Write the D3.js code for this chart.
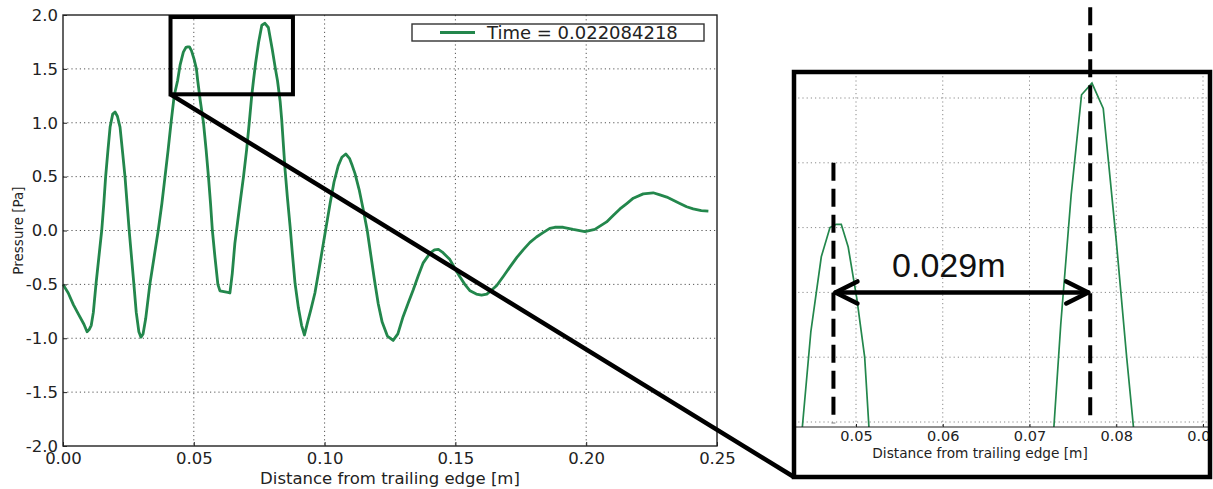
<!DOCTYPE html>
<html>
<head>
<meta charset="utf-8">
<script src="https://cdn.jsdelivr.net/npm/d3@7"></script>
<style>
  body { margin: 0; background: #fff; }
  svg { display: block; font-family: 'DejaVu Sans', sans-serif; }
</style>
</head>
<body>
<svg id="plot" width="1213" height="489"></svg>
<script>
// pressure trace
const distance = [
  0.0000, 0.0020, 0.0040, 0.0060, 0.0080, 0.0092, 0.0100, 0.0108, 0.0116, 0.0126,
  0.0137, 0.0148, 0.0156, 0.0163, 0.0172, 0.0180, 0.0190, 0.0199, 0.0208, 0.0218,
  0.0228, 0.0237, 0.0245, 0.0253, 0.0262, 0.0271, 0.0280, 0.0290, 0.0298, 0.0306,
  0.0316, 0.0332, 0.0348, 0.0364, 0.0378, 0.0390, 0.0402, 0.0413, 0.0425, 0.0438,
  0.0448, 0.0460, 0.0470, 0.0477, 0.0483, 0.0491, 0.0501, 0.0510, 0.0515, 0.0525,
  0.0537, 0.0547, 0.0556, 0.0564, 0.0571, 0.0581, 0.0592, 0.0600, 0.0610, 0.0620,
  0.0630, 0.0638, 0.0647, 0.0657, 0.0667, 0.0677, 0.0690, 0.0702, 0.0712, 0.0721,
  0.0728, 0.0736, 0.0748, 0.0760, 0.0772, 0.0785, 0.0800, 0.0812, 0.0820, 0.0830,
  0.0836, 0.0849, 0.0858, 0.0868, 0.0877, 0.0887, 0.0900, 0.0912, 0.0923, 0.0935,
  0.0948, 0.0963, 0.0976, 0.0989, 0.1005, 0.1021, 0.1036, 0.1052, 0.1066, 0.1081,
  0.1095, 0.1106, 0.1116, 0.1132, 0.1148, 0.1163, 0.1175, 0.1190, 0.1205, 0.1220,
  0.1240, 0.1262, 0.1280, 0.1300, 0.1320, 0.1339, 0.1358, 0.1377, 0.1403, 0.1420,
  0.1435, 0.1450, 0.1479, 0.1500, 0.1517, 0.1536, 0.1556, 0.1580, 0.1600, 0.1620,
  0.1640, 0.1658, 0.1685, 0.1708, 0.1735, 0.1759, 0.1785, 0.1810, 0.1835, 0.1861,
  0.1880, 0.1912, 0.1950, 0.1995, 0.2033, 0.2078, 0.2103, 0.2129, 0.2155, 0.2180,
  0.2218, 0.2256, 0.2282, 0.2308, 0.2333, 0.2358, 0.2384, 0.2409, 0.2440, 0.2467
];
const pressure = [
  -0.50, -0.58, -0.69, -0.78, -0.87, -0.94, -0.92, -0.88, -0.76, -0.50,
  -0.25, 0.00, 0.25, 0.50, 0.75, 0.96, 1.08, 1.10, 1.06, 0.96,
  0.72, 0.50, 0.25, 0.00, -0.25, -0.50, -0.76, -0.94, -0.99, -0.96,
  -0.82, -0.50, -0.25, 0.00, 0.25, 0.50, 0.75, 1.00, 1.25, 1.39,
  1.54, 1.655, 1.70, 1.705, 1.705, 1.67, 1.59, 1.50, 1.39, 1.20,
  1.00, 0.75, 0.50, 0.25, 0.00, -0.25, -0.50, -0.56, -0.565, -0.57,
  -0.575, -0.58, -0.40, -0.12, 0.07, 0.26, 0.50, 0.75, 1.00, 1.24,
  1.39, 1.55, 1.75, 1.905, 1.923, 1.884, 1.68, 1.50, 1.39, 1.20,
  1.03, 0.56, 0.30, 0.04, -0.22, -0.49, -0.72, -0.88, -0.97, -0.85,
  -0.73, -0.58, -0.40, -0.21, 0.02, 0.25, 0.45, 0.60, 0.68, 0.71,
  0.67, 0.60, 0.53, 0.38, 0.19, 0.00, -0.20, -0.45, -0.68, -0.85,
  -0.98, -1.02, -0.96, -0.80, -0.67, -0.55, -0.42, -0.30, -0.21, -0.18,
  -0.175, -0.20, -0.27, -0.36, -0.43, -0.50, -0.56, -0.59, -0.60, -0.59,
  -0.55, -0.51, -0.42, -0.34, -0.25, -0.18, -0.11, -0.06, -0.02, 0.02,
  0.03, 0.03, 0.01, -0.01, 0.01, 0.08, 0.14, 0.20, 0.25, 0.30,
  0.34, 0.35, 0.33, 0.31, 0.28, 0.25, 0.22, 0.20, 0.185, 0.18
];

const xTicks = [0.00, 0.05, 0.10, 0.15, 0.20, 0.25];
const yTicks = [-2.0, -1.5, -1.0, -0.5, 0.0, 0.5, 1.0, 1.5, 2.0];
const insetXTicks = [0.05, 0.06, 0.07, 0.08, 0.09];
const insetYGrid = [1.4, 1.5, 1.6, 1.7, 1.8, 1.9];

const legendLabel = 'Time = 0.022084218';
const xTitle = 'Distance from trailing edge [m]';
const yTitle = 'Pressure [Pa]';

// zoomed window [x0, x1, y0, y1] and the two marked peaks
const zoomWindow = [0.0411, 0.0879, 1.264, 1.981];
const peakA = 0.0474;
const peakB = 0.0770;
const spacingLabel = '0.029m';

const lineColor = '#23874c';

const svg = d3.select('#plot');
const points = d3.zip(distance, pressure);

// ---------- main plot ----------
const xScale = d3.scaleLinear().domain([0, 0.25]).range([63, 717]);
const yScale = d3.scaleLinear().domain([-2, 2]).range([446, 15]);

const main = svg.append('g').attr('class', 'main');

const gridStyle = sel => sel
  .attr('stroke', '#555')
  .attr('stroke-width', 1)
  .attr('stroke-dasharray', '1.2,3');

main.append('g').selectAll('line')
  .data(xTicks.slice(1, -1)).enter().append('line')
    .attr('x1', d => xScale(d)).attr('x2', d => xScale(d))
    .attr('y1', yScale(2)).attr('y2', yScale(-2))
    .call(gridStyle);

main.append('g').selectAll('line')
  .data(yTicks.slice(1, -1)).enter().append('line')
    .attr('x1', xScale(0)).attr('x2', xScale(0.25))
    .attr('y1', d => yScale(d)).attr('y2', d => yScale(d))
    .call(gridStyle);

const line = d3.line()
  .x(d => xScale(d[0]))
  .y(d => yScale(d[1]));

main.append('path')
  .datum(points)
  .attr('fill', 'none')
  .attr('stroke', lineColor)
  .attr('stroke-width', 2.8)
  .attr('stroke-linejoin', 'round')
  .attr('d', line);

const axisStyle = g => {
  g.selectAll('.domain').remove();
  g.selectAll('line').attr('stroke', '#222');
  g.selectAll('text')
    .attr('font-size', 16.5)
    .attr('fill', '#222')
    .attr('font-family', 'DejaVu Sans, sans-serif');
};

main.append('g')
  .attr('transform', `translate(0, ${yScale(-2)})`)
  .call(d3.axisBottom(xScale).tickValues(xTicks)
    .tickFormat(d => d.toFixed(2))
    .tickSizeInner(-4).tickSizeOuter(0).tickPadding(6))
  .call(axisStyle);

main.append('g')
  .attr('transform', `translate(${xScale(0)}, 0)`)
  .call(d3.axisLeft(yScale).tickValues(yTicks)
    .tickFormat(d => d.toFixed(1))
    .tickSizeInner(-4).tickSizeOuter(0).tickPadding(5))
  .call(axisStyle);

main.append('rect')
  .attr('x', xScale(0)).attr('y', yScale(2))
  .attr('width', xScale(0.25) - xScale(0))
  .attr('height', yScale(-2) - yScale(2))
  .attr('fill', 'none')
  .attr('stroke', '#222')
  .attr('stroke-width', 1.4);

main.append('text')
  .attr('x', (xScale(0) + xScale(0.25)) / 2)
  .attr('y', 484)
  .attr('text-anchor', 'middle')
  .attr('font-size', 16.5)
  .attr('fill', '#222')
  .text(xTitle);

main.append('text')
  .attr('transform', `translate(23, ${(yScale(2) + yScale(-2)) / 2}) rotate(-90)`)
  .attr('text-anchor', 'middle')
  .attr('font-size', 13.5)
  .attr('fill', '#222')
  .text(yTitle);

// legend
const legend = main.append('g').attr('transform', 'translate(412, 24)');
legend.append('rect')
  .attr('width', 292).attr('height', 17)
  .attr('fill', '#fff')
  .attr('stroke', '#333')
  .attr('stroke-width', 1.4);
legend.append('line')
  .attr('x1', 28).attr('x2', 63)
  .attr('y1', 8.5).attr('y2', 8.5)
  .attr('stroke', lineColor)
  .attr('stroke-width', 2.8);
legend.append('text')
  .attr('x', 75).attr('y', 15)
  .attr('font-size', 18)
  .attr('fill', '#222')
  .text(legendLabel);

// zoom rectangle + connector
const [zx0, zx1, zy0, zy1] = zoomWindow;
main.append('rect')
  .attr('x', xScale(zx0)).attr('y', yScale(zy1))
  .attr('width', xScale(zx1) - xScale(zx0))
  .attr('height', yScale(zy0) - yScale(zy1))
  .attr('fill', 'none')
  .attr('stroke', '#000')
  .attr('stroke-width', 4);

const box = { left: 794, top: 72, right: 1210, bottom: 477 };

svg.append('line')
  .attr('x1', xScale(zx0)).attr('y1', yScale(zy0))
  .attr('x2', box.left).attr('y2', box.bottom)
  .attr('stroke', '#000')
  .attr('stroke-width', 4.5);

// ---------- inset ----------
const ix = d3.scaleLinear().domain([0.05, 0.09]).range([856, 1203]);
const iy = d3.scaleLinear().domain([1.4, 1.9]).range([422, 98]);
const insetAxisY = 427;

svg.append('rect')
  .attr('x', box.left).attr('y', box.top)
  .attr('width', box.right - box.left)
  .attr('height', box.bottom - box.top)
  .attr('fill', '#fff');

svg.append('clipPath').attr('id', 'box-clip')
  .append('rect')
    .attr('x', box.left).attr('y', box.top)
    .attr('width', box.right - box.left)
    .attr('height', box.bottom - box.top);

svg.append('clipPath').attr('id', 'area-clip')
  .append('rect')
    .attr('x', box.left).attr('y', box.top)
    .attr('width', box.right - box.left)
    .attr('height', insetAxisY - box.top);

const inset = svg.append('g').attr('clip-path', 'url(#box-clip)');
const insetArea = inset.append('g').attr('clip-path', 'url(#area-clip)');

const insetGrid = sel => sel
  .attr('stroke', '#8a8a8a')
  .attr('stroke-width', 1)
  .attr('stroke-dasharray', '1.2,3');

insetArea.append('g').selectAll('line')
  .data(insetXTicks).enter().append('line')
    .attr('x1', d => ix(d)).attr('x2', d => ix(d))
    .attr('y1', box.top).attr('y2', insetAxisY)
    .call(insetGrid);

insetArea.append('g').selectAll('line')
  .data(insetYGrid).enter().append('line')
    .attr('x1', box.left).attr('x2', box.right)
    .attr('y1', d => iy(d)).attr('y2', d => iy(d))
    .call(insetGrid);

insetArea.append('path')
  .datum(points)
  .attr('fill', 'none')
  .attr('stroke', lineColor)
  .attr('stroke-width', 1.7)
  .attr('d', d3.line().x(d => ix(d[0])).y(d => iy(d[1])));

inset.append('g')
  .attr('transform', `translate(0, ${insetAxisY})`)
  .call(d3.axisBottom(ix).tickValues(insetXTicks)
    .tickFormat(d => d.toFixed(2))
    .tickSizeInner(-3).tickSizeOuter(0).tickPadding(4))
  .call(g => {
    g.select('.domain').remove();
    g.selectAll('line').attr('stroke', '#222');
    g.selectAll('text')
      .attr('font-size', 14.5)
      .attr('fill', '#222')
      .attr('font-family', 'DejaVu Sans, sans-serif');
  });

inset.append('line')
  .attr('x1', box.left).attr('x2', box.right)
  .attr('y1', insetAxisY).attr('y2', insetAxisY)
  .attr('stroke', '#222')
  .attr('stroke-width', 1.2);

inset.append('text')
  .attr('x', ix(0.0643))
  .attr('y', 458)
  .attr('text-anchor', 'middle')
  .attr('font-size', 13.7)
  .attr('fill', '#222')
  .text(xTitle);

// dashed peak markers
const dashStyle = sel => sel
  .attr('stroke', '#000')
  .attr('stroke-width', 4)
  .attr('stroke-dasharray', '18,8');

svg.append('line')
  .attr('x1', ix(peakA)).attr('x2', ix(peakA))
  .attr('y1', iy(1.8)).attr('y2', iy(1.398))
  .call(dashStyle);

svg.append('line')
  .attr('x1', ix(peakB)).attr('x2', ix(peakB))
  .attr('y1', iy(2.04)).attr('y2', iy(1.398))
  .call(dashStyle);

// spacing arrow
const arrowY = iy(1.6);
const ax0 = ix(peakA) + 2;
const ax1 = ix(peakB) - 2;
const arrow = svg.append('g')
  .attr('fill', 'none')
  .attr('stroke', '#000')
  .attr('stroke-width', 4.5)
  .attr('stroke-linecap', 'round')
  .attr('stroke-linejoin', 'round');
arrow.append('line')
  .attr('x1', ax0).attr('x2', ax1)
  .attr('y1', arrowY).attr('y2', arrowY);
arrow.append('path')
  .attr('d', `M${ax0 + 22},${arrowY - 11} L${ax0},${arrowY} L${ax0 + 22},${arrowY + 11}`);
arrow.append('path')
  .attr('d', `M${ax1 - 22},${arrowY - 11} L${ax1},${arrowY} L${ax1 - 22},${arrowY + 11}`);

svg.append('text')
  .attr('x', ix(0.0607))
  .attr('y', iy(1.624))
  .attr('text-anchor', 'middle')
  .attr('font-family', 'Liberation Sans, Arial, sans-serif')
  .attr('font-size', 34)
  .attr('fill', '#111')
  .text(spacingLabel);

// inset frame
svg.append('rect')
  .attr('x', box.left).attr('y', box.top)
  .attr('width', box.right - box.left)
  .attr('height', box.bottom - box.top)
  .attr('fill', 'none')
  .attr('stroke', '#000')
  .attr('stroke-width', 4.5);
</script>
</body>
</html>
